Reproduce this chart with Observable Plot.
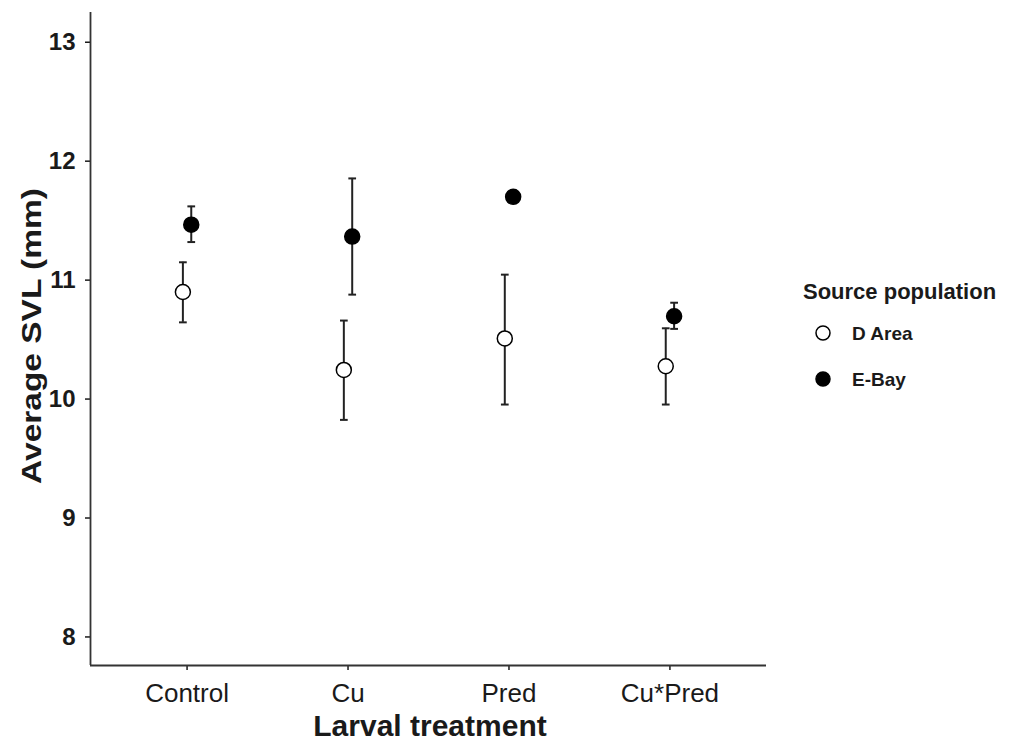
<!DOCTYPE html>
<html>
<head>
<meta charset="utf-8">
<script src="https://cdn.jsdelivr.net/npm/d3@7"></script>
<script src="https://cdn.jsdelivr.net/npm/@observablehq/plot@0.6"></script>
<style>
  html, body { margin: 0; padding: 0; background: #fff; }
  #wrap { position: relative; width: 1010px; height: 744px; font-family: "Liberation Sans", Arial, sans-serif; color: #1a1a1a; }
  #chart svg { display: block; }
  .ytitle { position: absolute; left: 32px; top: 336px; font-size: 27px; font-weight: bold; line-height: 1; white-space: nowrap;
            transform: translate(-50%, -50%) rotate(-90deg) scale(1.24, 1); }
  .xtitle { position: absolute; left: 430px; top: 726px; font-size: 30px; font-weight: bold; line-height: 1; white-space: nowrap;
            transform: translate(-50%, -50%); }
  #legend { position: absolute; left: 790px; top: 270px; }
</style>
</head>
<body>
<div id="wrap">
  <div id="chart"></div>
  <div class="ytitle">Average SVL (mm)</div>
  <div class="xtitle">Larval treatment</div>
  <div id="legend"></div>
</div>
<script>
// ---- data ----
const treatments = ["Control", "Cu", "Pred", "Cu*Pred"];
const populations = ["D Area", "E-Bay"];
const dAreaMean = [10.90, 10.245, 10.51, 10.276];
const dAreaLow  = [10.645, 9.825, 9.954, 9.954];
const dAreaHigh = [11.15, 10.66, 11.046, 10.595];
const eBayMean  = [11.466, 11.366, 11.70, 10.696];
const eBayLow   = [11.32, 10.878, null, 10.59];
const eBayHigh  = [11.62, 11.855, null, 10.81];
const yTicks = [8, 9, 10, 11, 12, 13];
const legendTitle = "Source population";

// ---- scales / layout settings ----
const xDomain = [0.4, 4.6];
const yDomain = [7.76, 13.25];
const dodge = {"D Area": -0.026, "E-Bay": 0.026};
const capHalf = 0.024;
const popFill = {"D Area": "white", "E-Bay": "black"};

const rows = [];
treatments.forEach((t, i) => {
  rows.push({treatment: t, pop: "D Area", idx: i + 1, mean: dAreaMean[i], lo: dAreaLow[i], hi: dAreaHigh[i]});
  rows.push({treatment: t, pop: "E-Bay", idx: i + 1, mean: eBayMean[i], lo: eBayLow[i], hi: eBayHigh[i]});
});
rows.forEach(d => d.xpos = d.idx + dodge[d.pop]);
const bars = rows.filter(d => d.lo != null && d.hi != null);

const ink = "#1a1a1a";

const plot = Plot.plot({
  width: 1010,
  height: 744,
  marginLeft: 90,
  marginRight: 244,
  marginTop: 12,
  marginBottom: 79,
  style: {fontFamily: "'Liberation Sans', Arial, sans-serif", background: "white", color: ink},
  x: {type: "linear", domain: xDomain},
  y: {domain: yDomain},
  marks: [
    Plot.axisY({ticks: yTicks, tickFormat: d => String(d), tickSize: 5, tickPadding: 10, fontSize: 24, fontWeight: "bold", label: null, strokeWidth: 1.5}),
    Plot.axisX({ticks: treatments.map((t, i) => i + 1), tickFormat: i => treatments[i - 1], tickSize: 5, tickPadding: 13, fontSize: 26, label: null, strokeWidth: 1.5}),
    Plot.ruleX([xDomain[0]], {stroke: "#333", strokeWidth: 1.8}),
    Plot.ruleY([yDomain[0]], {stroke: "#333", strokeWidth: 1.8}),
    Plot.ruleX(bars, {x: "xpos", y1: "lo", y2: "hi", stroke: "#222", strokeWidth: 2}),
    Plot.link(bars, {x1: d => d.xpos - capHalf, x2: d => d.xpos + capHalf, y1: "lo", y2: "lo", stroke: "#222", strokeWidth: 2}),
    Plot.link(bars, {x1: d => d.xpos - capHalf, x2: d => d.xpos + capHalf, y1: "hi", y2: "hi", stroke: "#222", strokeWidth: 2}),
    Plot.dot(rows, {x: "xpos", y: "mean", r: 7.5, fill: d => popFill[d.pop], stroke: "black", strokeWidth: 1.5})
  ]
});
document.getElementById("chart").appendChild(plot);

// ---- legend ----
const lg = d3.select("#legend").append("svg").attr("width", 220).attr("height", 130)
  .style("font-family", "'Liberation Sans', Arial, sans-serif");
lg.append("text").attr("x", 13).attr("y", 29).attr("font-size", 22).attr("font-weight", "bold").attr("fill", ink).text(legendTitle);
populations.forEach((p, i) => {
  const cy = 63 + i * 46;
  lg.append("circle").attr("cx", 33).attr("cy", cy).attr("r", 7).attr("fill", popFill[p]).attr("stroke", "black").attr("stroke-width", 1.5);
  lg.append("text").attr("x", 62).attr("y", cy + 7).attr("font-size", 19).attr("font-weight", "bold").attr("fill", ink).text(p);
});
</script>
</body>
</html>
